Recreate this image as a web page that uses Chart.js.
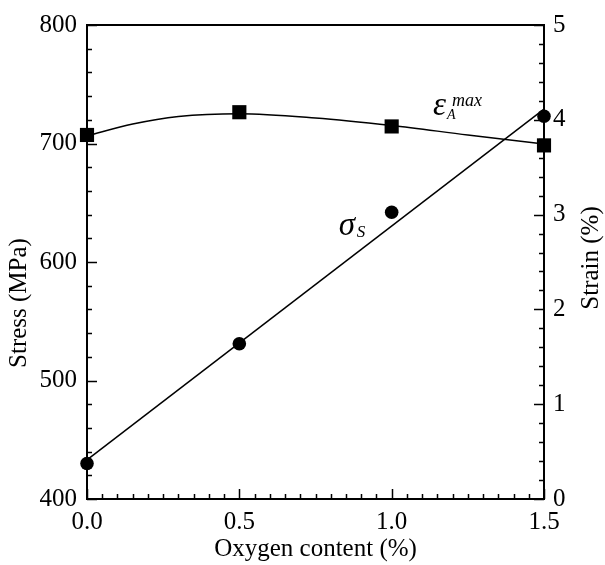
<!DOCTYPE html>
<html><head><meta charset="utf-8">
<script src="https://cdn.jsdelivr.net/npm/chart.js@4.4.1/dist/chart.umd.min.js"></script>
<style>html,body{margin:0;padding:0;background:#fff}#wrap{width:605px;height:565px}</style>
</head><body><div id="wrap"><canvas id="c" width="605" height="565"></canvas></div>
<script>
// Data
const oxygen = [0, 0.5, 1.0, 1.5];
const stress = [430, 531, 642, 723];
const strain = [3.84, 4.08, 3.93, 3.73];
const stressFitX = [0, 1.5];
const stressFitY = [433, 729];
const strainFitX = [0, 0.15, 0.3, 0.5, 0.75, 1.0, 1.25, 1.5];
const strainFitY = [3.83, 3.955, 4.035, 4.065, 4.02, 3.94, 3.84, 3.745];
const xTickLabels = ['0.0', '0.5', '1.0', '1.5'];
const stressTicks = [400, 500, 600, 700, 800];
const strainTicks = [0, 1, 2, 3, 4, 5];

const FONT = "'Liberation Serif', 'Times New Roman', serif";
const pts = (xs, ys) => xs.map((x, i) => ({x: x, y: ys[i]}));

const frameTicks = {
  id: 'frameTicks',
  beforeDatasetsDraw(chart) {
    const ctx = chart.ctx, a = chart.chartArea;
    const sx = chart.scales.x, sy = chart.scales.y, sy2 = chart.scales.y2;
    ctx.save();
    ctx.strokeStyle = '#000';
    ctx.lineWidth = 2;
    ctx.strokeRect(a.left, a.top, a.right - a.left, a.bottom - a.top);
    ctx.lineWidth = 1.5;
    ctx.beginPath();
    for (let i = 0; i <= 30; i++) {
      const px = Math.round(sx.getPixelForValue(i * 0.05)) + 0.5;
      const len = (i % 10 === 0) ? 10 : 5;
      ctx.moveTo(px, a.bottom); ctx.lineTo(px, a.bottom - len);
    }
    for (let i = 0; i <= 20; i++) {
      const py = Math.round(sy.getPixelForValue(400 + i * 20)) + 0.5;
      const len = (i % 5 === 0) ? 10 : 5;
      ctx.moveTo(a.left, py); ctx.lineTo(a.left + len, py);
    }
    for (let i = 0; i <= 25; i++) {
      const py = Math.round(sy2.getPixelForValue(i * 0.2)) + 0.5;
      const len = (i % 5 === 0) ? 10 : 5;
      ctx.moveTo(a.right, py); ctx.lineTo(a.right - len, py);
    }
    ctx.stroke();

    ctx.fillStyle = '#000';
    ctx.font = "25px " + FONT;
    ctx.textAlign = 'center';
    ctx.textBaseline = 'alphabetic';
    ctx.fillText('Oxygen content (%)', (a.left + a.right) / 2, 556);
    ctx.save();
    ctx.translate(26, 303); ctx.rotate(-Math.PI / 2);
    ctx.fillText('Stress (MPa)', 0, 0);
    ctx.restore();
    ctx.save();
    ctx.translate(598, 258); ctx.rotate(-Math.PI / 2);
    ctx.fillText('Strain (%)', 0, 0);
    ctx.restore();

    ctx.textAlign = 'left';
    let px = sx.getPixelForValue(0.826), py = sy.getPixelForValue(623);
    ctx.font = "italic 33px " + FONT;
    ctx.fillText('\u03C3', px, py);
    ctx.font = "italic 17px " + FONT;
    ctx.fillText('S', px + 18, py + 2);

    px = sx.getPixelForValue(1.136); py = sy.getPixelForValue(724);
    ctx.font = "italic 33px " + FONT;
    ctx.fillText('\u03B5', px, py);
    ctx.font = "italic 14px " + FONT;
    ctx.fillText('A', px + 14, py + 4);
    ctx.font = "italic 18px " + FONT;
    ctx.fillText('max', px + 19, py - 9);
    ctx.restore();
  }
};

new Chart(document.getElementById('c'), {
  type: 'scatter',
  data: {
    datasets: [
      { data: pts(stressFitX, stressFitY), yAxisID: 'y', showLine: true, borderColor: '#000', borderWidth: 1.5, pointRadius: 0, fill: false, clip: false },
      { data: pts(strainFitX, strainFitY), yAxisID: 'y2', showLine: true, borderColor: '#000', borderWidth: 1.5, pointRadius: 0, fill: false, cubicInterpolationMode: 'monotone', clip: false },
      { data: pts(oxygen, stress), yAxisID: 'y', pointStyle: 'circle', pointRadius: 6.8, backgroundColor: '#000', borderColor: '#000', borderWidth: 0, clip: false },
      { data: pts(oxygen, strain), yAxisID: 'y2', pointStyle: 'rect', pointRadius: 10, backgroundColor: '#000', borderColor: '#000', borderWidth: 0, clip: false }
    ]
  },
  options: {
    responsive: false,
    devicePixelRatio: 1,
    animation: false,
    layout: { padding: { top: 22, left: 0, right: 0, bottom: 0 } },
    plugins: { legend: { display: false }, tooltip: { enabled: false } },
    scales: {
      x: {
        type: 'linear', position: 'bottom', min: 0, max: 1.5,
        afterBuildTicks: s => { s.ticks = oxygen.map(v => ({value: v})); },
        ticks: { callback: (v) => xTickLabels[oxygen.indexOf(v)], font: {family: FONT, size: 25}, color: '#000', padding: 8, maxRotation: 0, autoSkip: false },
        grid: { display: false, drawTicks: false },
        border: { display: false },
        afterFit: s => { s.height = 66; }
      },
      y: {
        type: 'linear', position: 'left', min: 400, max: 800,
        afterBuildTicks: s => { s.ticks = stressTicks.map(v => ({value: v})); },
        ticks: { font: {family: FONT, size: 25}, color: '#000', padding: 10, autoSkip: false },
        grid: { display: false, drawTicks: false },
        border: { display: false },
        afterFit: s => { s.width = 87; }
      },
      y2: {
        type: 'linear', position: 'right', min: 0, max: 5,
        afterBuildTicks: s => { s.ticks = strainTicks.map(v => ({value: v})); },
        ticks: { font: {family: FONT, size: 25}, color: '#000', padding: 9, autoSkip: false },
        grid: { display: false, drawTicks: false },
        border: { display: false },
        afterFit: s => { s.width = 61; }
      }
    }
  },
  plugins: [frameTicks]
});
</script>
</body></html>
